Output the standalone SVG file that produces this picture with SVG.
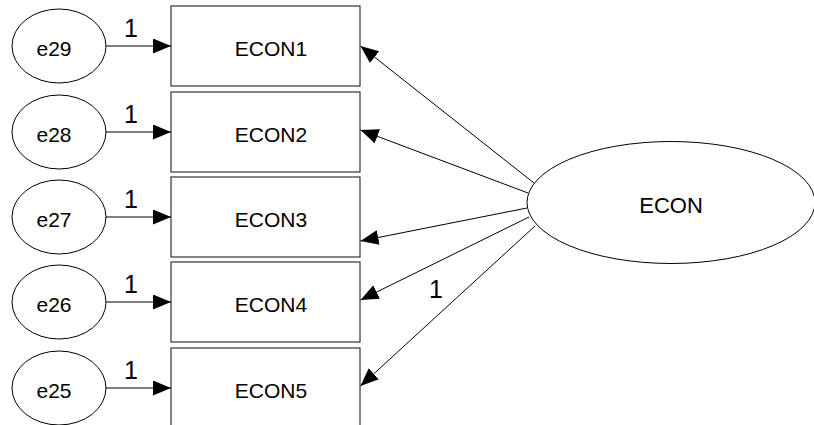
<svg xmlns="http://www.w3.org/2000/svg" width="814" height="425" viewBox="0 0 814 425">
  <style>
    .bg { fill: #ffffff; }
    .box { fill: #ffffff; stroke: #333333; stroke-width: 1.2; }
    .ell { fill: #ffffff; stroke: #000000; stroke-width: 1; }
    .lbl { font-family: "Liberation Sans", Arial, sans-serif; font-size: 21px; fill: #000000; text-anchor: middle; }
    .big { font-size: 22px; }
    .one { font-family: "Liberation Sans", Arial, sans-serif; font-size: 25px; fill: #000000; text-anchor: middle; }
    .edge { stroke: #000000; stroke-width: 1; fill: none; marker-end: url(#head); }
  </style>
  <defs>
    <marker id="head" markerUnits="userSpaceOnUse" markerWidth="20" markerHeight="16" refX="18" refY="7.5" orient="auto">
      <path d="M0,0 L18,7.5 L0,15 Z" fill="#000000"/>
    </marker>
  </defs>
  <rect class="bg" x="0" y="0" width="814" height="425"/>

  <!-- indicator boxes -->
  <g id="ECON1"><rect class="box" x="171" y="6" width="189" height="80"/><text class="lbl" x="271" y="56">ECON1</text></g>
  <g id="ECON2"><rect class="box" x="171" y="92" width="189" height="80"/><text class="lbl" x="271" y="142">ECON2</text></g>
  <g id="ECON3"><rect class="box" x="171" y="177" width="189" height="80"/><text class="lbl" x="271" y="227">ECON3</text></g>
  <g id="ECON4"><rect class="box" x="171" y="262" width="189" height="80"/><text class="lbl" x="271" y="312">ECON4</text></g>
  <g id="ECON5"><rect class="box" x="171" y="348" width="189" height="80"/><text class="lbl" x="271" y="398">ECON5</text></g>

  <!-- error terms -->
  <g id="e29"><ellipse class="ell" cx="59" cy="46" rx="47" ry="37"/><text class="lbl" x="54" y="56">e29</text></g>
  <g id="e28"><ellipse class="ell" cx="59" cy="132" rx="47" ry="37"/><text class="lbl" x="54" y="142">e28</text></g>
  <g id="e27"><ellipse class="ell" cx="59" cy="217" rx="47" ry="37"/><text class="lbl" x="54" y="227">e27</text></g>
  <g id="e26"><ellipse class="ell" cx="59" cy="302" rx="47" ry="37"/><text class="lbl" x="54" y="312">e26</text></g>
  <g id="e25"><ellipse class="ell" cx="59" cy="388" rx="47" ry="37"/><text class="lbl" x="54" y="398">e25</text></g>

  <!-- latent factor -->
  <g id="ECON"><ellipse class="ell" cx="671" cy="202.5" rx="144" ry="61"/><text class="lbl big" x="671" y="213">ECON</text></g>

  <!-- paths -->
  <g id="connectors">
    <line class="edge" x1="106" y1="46" x2="171" y2="46"/>
    <line class="edge" x1="106" y1="132" x2="171" y2="132"/>
    <line class="edge" x1="106" y1="217" x2="171" y2="217"/>
    <line class="edge" x1="106" y1="302" x2="171" y2="302"/>
    <line class="edge" x1="106" y1="388" x2="171" y2="388"/>

    <line class="edge" x1="534" y1="183" x2="360.5" y2="46"/>
    <line class="edge" x1="528" y1="193" x2="360.5" y2="130"/>
    <line class="edge" x1="527" y1="208" x2="360.5" y2="241"/>
    <line class="edge" x1="529" y1="217" x2="360.5" y2="300"/>
    <line class="edge" x1="535" y1="226" x2="360.5" y2="386"/>

    <text class="one" x="131" y="37">1</text>
    <text class="one" x="131" y="123">1</text>
    <text class="one" x="131" y="208">1</text>
    <text class="one" x="131" y="293">1</text>
    <text class="one" x="131" y="379">1</text>
    <text class="one" x="436" y="298">1</text>
  </g>
</svg>
